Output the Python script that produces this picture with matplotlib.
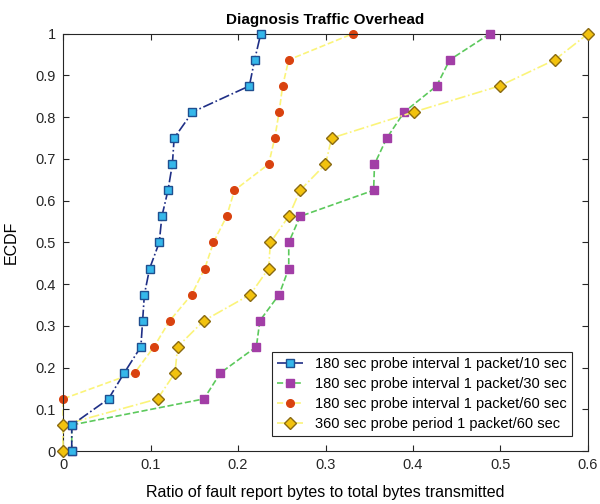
import matplotlib
matplotlib.use("Agg")
import matplotlib.pyplot as plt
import numpy as np

plt.rcParams['font.family'] = ['Liberation Sans', 'DejaVu Sans']

# ECDF levels (16 samples -> 17 points)
ecdf = np.arange(17) / 16.0

# ratio values
x_10s = [0.010, 0.010, 0.052, 0.070, 0.089, 0.091, 0.093, 0.099, 0.110,
         0.113, 0.120, 0.125, 0.127, 0.148, 0.213, 0.219, 0.226]
x_30s = [0.010, 0.010, 0.161, 0.180, 0.221, 0.225, 0.247, 0.258, 0.258,
         0.271, 0.355, 0.356, 0.370, 0.390, 0.427, 0.442, 0.488]
x_60s = [0.000, 0.000, 0.000, 0.082, 0.104, 0.122, 0.147, 0.162, 0.172,
         0.187, 0.196, 0.235, 0.242, 0.247, 0.251, 0.258, 0.331]
x_360 = [0.000, 0.000, 0.108, 0.128, 0.131, 0.161, 0.214, 0.235, 0.237,
         0.258, 0.271, 0.300, 0.307, 0.401, 0.499, 0.562, 0.600]

labels = ["180 sec probe interval 1 packet/10 sec",
          "180 sec probe interval 1 packet/30 sec",
          "180 sec probe interval 1 packet/60 sec",
          "360 sec probe period 1 packet/60 sec"]

fig = plt.figure(figsize=(6, 5.04), dpi=100)
ax = fig.add_axes([0.105, 0.105, 0.875, 0.828])

ax.plot(x_10s, ecdf, linestyle='-.', color='#1f2f86', linewidth=1.2,
        marker='s', markersize=6, markerfacecolor='#35b7ea',
        markeredgecolor='#1f4f8f', label=labels[0], zorder=5)
ax.plot(x_30s, ecdf, linestyle='--', color='#5cc95c', linewidth=1.2,
        marker='s', markersize=5.5, markerfacecolor='#a23ea6',
        markeredgecolor='#a23ea6', label=labels[1], zorder=3)
ax.plot(x_60s, ecdf, linestyle='--', color='#fbf47a', linewidth=1.2,
        marker='o', markersize=5.5, markerfacecolor='#d9420f',
        markeredgecolor='#d9420f', label=labels[2], zorder=2)
ax.plot(x_360, ecdf, linestyle='-.', color='#fbf47a', linewidth=1.2,
        marker='D', markersize=6, markerfacecolor='#f2c20e',
        markeredgecolor='#8a6a12', label=labels[3], zorder=4)

ax.set_xlim(0, 0.6)
ax.set_ylim(0, 1)
ax.set_xticks(np.arange(0, 0.61, 0.1))
ax.set_xticklabels(['0', '0.1', '0.2', '0.3', '0.4', '0.5', '0.6'])
ax.set_yticks(np.arange(0, 1.01, 0.1))
ax.set_yticklabels(['0', '0.1', '0.2', '0.3', '0.4', '0.5', '0.6',
                    '0.7', '0.8', '0.9', '1'])
ax.tick_params(direction='in', top=True, right=True, labelsize=10.5,
               colors='#262626', length=4, pad=5)
for s in ax.spines.values():
    s.set_color('#262626')
    s.set_linewidth(0.8)

ax.set_title("Diagnosis Traffic Overhead", fontsize=11, fontweight='bold', pad=7)
ax.set_xlabel("Ratio of fault report bytes to total bytes transmitted",
              fontsize=11.5, labelpad=9)
ax.set_ylabel("ECDF", fontsize=11.5, labelpad=12)

leg = ax.legend(loc='lower right', fontsize=10.5, fancybox=False,
                edgecolor='#262626', framealpha=1, borderpad=0.35,
                labelspacing=0.4, handlelength=1.8, borderaxespad=0,
                bbox_to_anchor=(0.9695, 0.036))
leg.get_frame().set_linewidth(0.8)

for ln in ax.lines:
    ln.set_clip_on(False)

fig.savefig("out.png", dpi=100)
